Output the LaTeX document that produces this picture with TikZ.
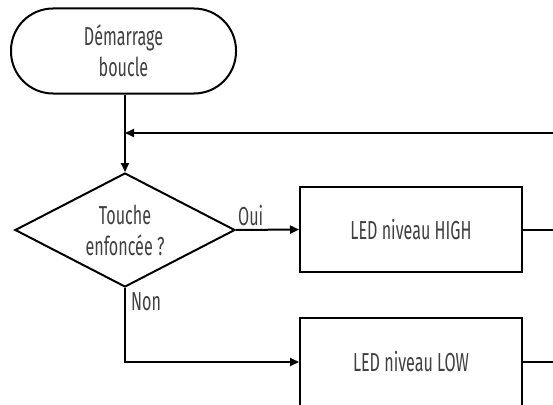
\documentclass[tikz,border=0pt]{standalone}
\usepackage{fontspec}
\setmainfont[FakeStretch=0.62]{Fira Sans}
\usetikzlibrary{shapes.geometric,arrows.meta}
\definecolor{txt}{HTML}{404040}
\tikzset{
  base/.style={draw=black, line width=2pt, text=txt, align=center, inner sep=0pt,
    font=\fontsize{26}{31}\selectfont},
  term/.style={base, rectangle, rounded corners=42pt, minimum width=225pt, minimum height=85pt},
  decide/.style={base, diamond, minimum width=220pt, minimum height=114pt, aspect=1.93},
  proc/.style={base, rectangle, minimum width=222pt, minimum height=85pt},
  lbl/.style={text=txt, font=\fontsize{26}{31}\selectfont, inner sep=0pt},
  conn/.style={line width=2pt, draw=black},
  arr/.style={conn, -{Triangle[length=9pt,width=8pt]}}
}
\begin{document}
\begin{tikzpicture}[x=1pt,y=-1pt]
\useasboundingbox (0,0) rectangle (553,404);
\fill[white] (0,0) rectangle (553,404);
\clip (0,0) rectangle (553,404);
\node[term] (start) at (123.5,51) {Démarrage\\boucle};
\node[decide] (dec) at (125,230) {Touche\\enfoncée ?};
\node[proc] (high) at (411,229.5) {LED niveau HIGH};
\node[proc, minimum height=88pt] (low) at (411,362) {LED niveau LOW};
\coordinate (j) at (125,133);
\coordinate (fb) at (560,133);
\coordinate (hout) at (560,229.5);
\coordinate (lout) at (560,362);
\draw[arr] (start.south -| dec.north) -- (dec.north);
\draw[arr] (fb) -- (j);
\draw[arr] (dec.east) -- (high.west);
\draw[arr] (dec.south) |- (low.west);
\draw[conn] (high.east) -- (hout);
\draw[conn] (low.east) -- (lout);
\node[lbl, anchor=south west] (oui) at (238,226) {Oui};
\node[lbl, anchor=west] (non) at (131,302) {Non};
\end{tikzpicture}
\end{document}
